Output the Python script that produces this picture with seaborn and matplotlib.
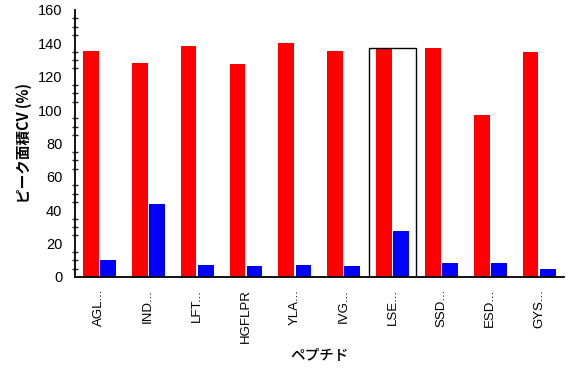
import pandas as pd
import matplotlib
matplotlib.use("Agg")
import matplotlib.pyplot as plt
from matplotlib.patches import Rectangle
from matplotlib.ticker import MultipleLocator
import seaborn as sns

peptides = ["AGL...", "IND...", "LFT...", "HGFLPR", "YLA...",
            "IVG...", "LSE...", "SSD...", "ESD...", "GYS..."]
cv_red = [135.5, 128.4, 138.4, 127.6, 140.2, 135.4, 137.0, 137.4, 97.1, 134.8]
cv_blue = [10.2, 43.7, 7.2, 6.6, 7.2, 6.6, 27.6, 8.4, 8.4, 4.8]
series = ["red", "blue"]
highlight = "LSE..."

df = pd.DataFrame({
    "peptide": peptides * 2,
    "cv": cv_red + cv_blue,
    "series": [series[0]] * len(peptides) + [series[1]] * len(peptides),
})

sns.set_style("white")
plt.rcParams["font.family"] = ["Liberation Sans", "DejaVu Sans"]
jp_font = ["Noto Sans CJK JP", "DejaVu Sans"]

fig = plt.figure(figsize=(5.81, 3.74), dpi=100)
ax = fig.add_axes([0.129, 0.2594, 0.841, 0.7139])

sns.barplot(data=df, x="peptide", y="cv", hue="series", order=peptides,
            hue_order=series, palette={"red": "#FF0000", "blue": "#0000FF"},
            saturation=1, width=0.7, gap=0.08, linewidth=0, legend=False, ax=ax)

# box around the highlighted peptide
i = peptides.index(highlight)
ax.add_patch(Rectangle((i - 0.49, 0), 0.98, cv_red[i], fill=False,
                       edgecolor="black", linewidth=1.0, zorder=3))

ax.set_xlim(-0.5, len(peptides) - 0.5)
ax.set_ylim(0, 160)
ax.yaxis.set_major_locator(MultipleLocator(20))
ax.yaxis.set_minor_locator(MultipleLocator(5))

for side in ["top", "right"]:
    ax.spines[side].set_visible(False)
for side in ["left", "bottom"]:
    ax.spines[side].set_color("black")
    ax.spines[side].set_linewidth(1.3)

ax.tick_params(axis="y", which="major", direction="inout", length=8, width=1.0,
               labelsize=10.5, pad=5, colors="black")
ax.tick_params(axis="y", which="minor", direction="inout", length=4, width=1.0,
               left=True)
ax.tick_params(axis="x", which="major", direction="out", length=4.5, width=1.0,
               labelsize=9.5, pad=4, colors="black")
plt.setp(ax.get_xticklabels(), rotation=90)

ax.set_ylabel("ピーク面積CV (%)", family=jp_font, fontsize=10.5,
              fontweight="bold", color="black", labelpad=4)
ax.set_xlabel("ペプチド", family=jp_font, fontsize=10.5, fontweight="medium",
              color="black", labelpad=4)

plt.savefig("out.png", dpi=100)
